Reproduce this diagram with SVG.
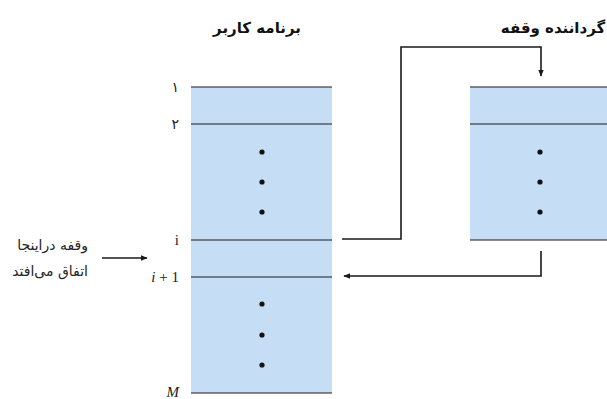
<svg xmlns="http://www.w3.org/2000/svg" width="607" height="399" viewBox="0 0 607 399">
<style>
.blk{fill:#c6ddf6;stroke:none}
.ln{stroke:#1a1a1a;stroke-width:1.2;fill:none}
.con{stroke:#1a1a1a;stroke-width:1.6;fill:none}
.dot{fill:#111}
.ttl{font-family:"DejaVu Sans",sans-serif;font-size:15px;font-weight:bold;fill:#111}
.fa{font-family:"DejaVu Sans",sans-serif;font-size:14px;fill:#222}
.lbl{font-family:"Liberation Serif",serif;font-size:15px;fill:#222}
</style>
<defs>
<marker id="ah" viewBox="0 0 10 10" refX="9" refY="5" markerWidth="7" markerHeight="7" orient="auto" markerUnits="userSpaceOnUse">
<path d="M0,1 L10,5 L0,9 z" fill="#1a1a1a"/>
</marker>
</defs>
<g id="user-program">
<text class="ttl" x="257" y="33" text-anchor="middle">برنامه کاربر</text>
<rect class="blk" x="191" y="87" width="141" height="306"/>
<line class="ln" x1="191" y1="87" x2="332" y2="87"/>
<line class="ln" x1="191" y1="124" x2="332" y2="124"/>
<line class="ln" x1="191" y1="240" x2="332" y2="240"/>
<line class="ln" x1="191" y1="277" x2="332" y2="277"/>
<line class="ln" x1="191" y1="393" x2="332" y2="393"/>
<circle class="dot" cx="262" cy="152" r="2.6"/>
<circle class="dot" cx="262" cy="182" r="2.6"/>
<circle class="dot" cx="262" cy="212" r="2.6"/>
<circle class="dot" cx="262" cy="304" r="2.6"/>
<circle class="dot" cx="262" cy="335" r="2.6"/>
<circle class="dot" cx="262" cy="365" r="2.6"/>
<text class="fa" x="179" y="92" text-anchor="end" font-size="12">۱</text>
<text class="fa" x="179" y="129" text-anchor="end" font-size="12">۲</text>
<text class="lbl" x="179" y="245" text-anchor="end">i</text>
<text class="lbl" x="179" y="282" text-anchor="end"><tspan font-style="italic">i</tspan> + 1</text>
<text class="lbl" x="179" y="397" text-anchor="end" font-style="italic">M</text>
</g>
<g id="interrupt-handler">
<text class="ttl" x="553" y="33" text-anchor="middle">گرداننده وقفه</text>
<rect class="blk" x="470" y="87" width="137" height="153"/>
<line class="ln" x1="470" y1="87" x2="607" y2="87"/>
<line class="ln" x1="470" y1="124" x2="607" y2="124"/>
<line class="ln" x1="470" y1="240" x2="607" y2="240"/>
<circle class="dot" cx="540" cy="152" r="2.6"/>
<circle class="dot" cx="540" cy="182" r="2.6"/>
<circle class="dot" cx="540" cy="212" r="2.6"/>
</g>
<g id="interrupt-label">
<text class="fa" x="88" y="250" text-anchor="end">وقفه دراینجا</text>
<text class="fa" x="88" y="276" text-anchor="end">اتفاق می‌افتد</text>
</g>
<g id="connectors">
<line class="con" x1="102" y1="258" x2="147" y2="258" marker-end="url(#ah)"/>
<polyline class="con" points="342,239 401,239 401,47 541,47 541,76" marker-end="url(#ah)"/>
<polyline class="con" points="541,251 541,276 344,276" marker-end="url(#ah)"/>
</g>
</svg>
